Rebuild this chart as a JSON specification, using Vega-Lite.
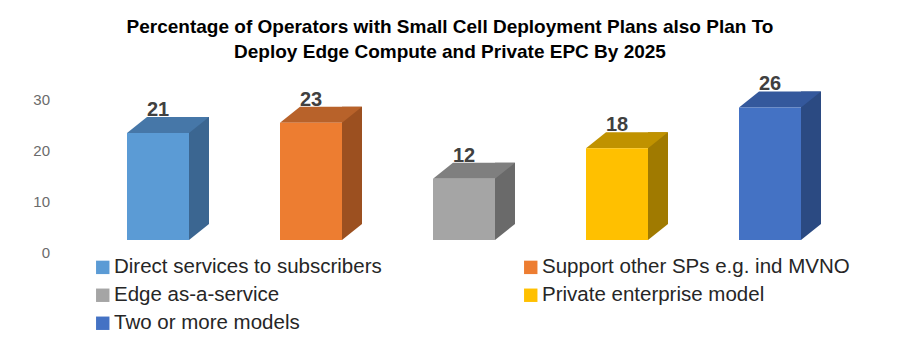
{
  "$schema": "https://vega.github.io/schema/vega-lite/v6.json",
  "autosize": {"type": "none"},
  "width": 765,
  "height": 153,
  "padding": {"left": 81.5, "top": 87, "right": 53.5, "bottom": 115},
  "background": "white",
  "config": {"view": {"stroke": null}, "font": "Liberation Sans"},
  "title": {
    "text": ["Percentage of Operators with Small Cell Deployment Plans also Plan To", "Deploy Edge Compute and Private EPC By 2025"],
    "font": "Liberation Sans",
    "fontSize": 19,
    "fontWeight": "bold",
    "color": "#000000",
    "anchor": "middle",
    "frame": "group",
    "dx": -14,
    "offset": 12,
    "lineHeight": 25
  },
  "data": {
    "values": [
      {"category": "Direct services to subscribers", "value": 21},
      {"category": "Support other SPs e.g. ind MVNO", "value": 23},
      {"category": "Edge as-a-service", "value": 12},
      {"category": "Private enterprise model", "value": 18},
      {"category": "Two or more models", "value": 26}
    ]
  },
  "encoding": {
    "x": {"field": "category", "type": "nominal", "sort": null, "axis": null, "scale": {"paddingInner": 0, "paddingOuter": 0}}
  },
  "layer": [
    {
      "mark": {"type": "bar", "width": 20, "xOffset": 41, "yOffset": -16, "y2Offset": -16},
      "encoding": {
        "y": {"field": "value", "type": "quantitative", "scale": {"domain": [0, 30], "nice": false}, "axis": {"values": [0, 10, 20, 30], "title": null, "domain": false, "ticks": false, "grid": false, "labelPadding": 32, "labelOffset": 12.5, "labelFontSize": 15, "labelColor": "#6b6b6b", "labelFont": "Liberation Sans"}},
        "color": {"field": "category", "type": "nominal", "legend": null, "scale": {"domain": ["Direct services to subscribers", "Support other SPs e.g. ind MVNO", "Edge as-a-service", "Private enterprise model", "Two or more models"], "range": ["#3B6691", "#9C5020", "#6A6A6A", "#A07A00", "#2B4A82"]}}
      }
    },
    {
      "mark": {"type": "point", "filled": true, "opacity": 1, "size": 10404, "shape": "M -0.6078 0 L 0.6078 0 L 1 -0.3137 L -0.2157 -0.3137 Z"},
      "encoding": {
        "y": {"field": "value", "type": "quantitative"},
        "color": {"field": "category", "type": "nominal", "legend": null, "scale": {"domain": ["Direct services to subscribers", "Support other SPs e.g. ind MVNO", "Edge as-a-service", "Private enterprise model", "Two or more models"], "range": ["#4677A8", "#B8622A", "#7F7F7F", "#C09200", "#34589C"]}}
      }
    },
    {
      "mark": {"type": "point", "filled": true, "opacity": 1, "size": 10404, "shape": "M 0.6078 -0.3137 L 1 -0.3137 L 0.6078 0 Z"},
      "encoding": {
        "y": {"datum": 0, "type": "quantitative"},
        "color": {"field": "category", "type": "nominal", "legend": null, "scale": {"domain": ["Direct services to subscribers", "Support other SPs e.g. ind MVNO", "Edge as-a-service", "Private enterprise model", "Two or more models"], "range": ["#3B6691", "#9C5020", "#6A6A6A", "#A07A00", "#2B4A82"]}}
      }
    },
    {
      "mark": {"type": "bar", "width": 62},
      "encoding": {
        "y": {"field": "value", "type": "quantitative"},
        "color": {
          "field": "category", "type": "nominal",
          "scale": {"domain": ["Direct services to subscribers", "Support other SPs e.g. ind MVNO", "Edge as-a-service", "Private enterprise model", "Two or more models"], "range": ["#5B9BD5", "#ED7D31", "#A5A5A5", "#FFC000", "#4472C4"]},
          "legend": {"title": null, "orient": "none", "direction": "horizontal", "legendX": 11, "legendY": 170, "columns": 2, "columnPadding": 138, "rowPadding": 7, "symbolType": "square", "symbolSize": 180, "symbolStrokeWidth": 0, "labelFontSize": 20.5, "labelFont": "Liberation Sans", "labelColor": "#262626", "labelLimit": 400, "labelOffset": 1}
        }
      }
    },
    {
      "mark": {"type": "text", "fontSize": 20, "fontWeight": "bold", "color": "#404040", "baseline": "alphabetic", "yOffset": -17, "font": "Liberation Sans"},
      "encoding": {
        "y": {"field": "value", "type": "quantitative"},
        "text": {"field": "value", "type": "quantitative"}
      }
    }
  ],
  "resolve": {"scale": {"color": "independent"}}
}
